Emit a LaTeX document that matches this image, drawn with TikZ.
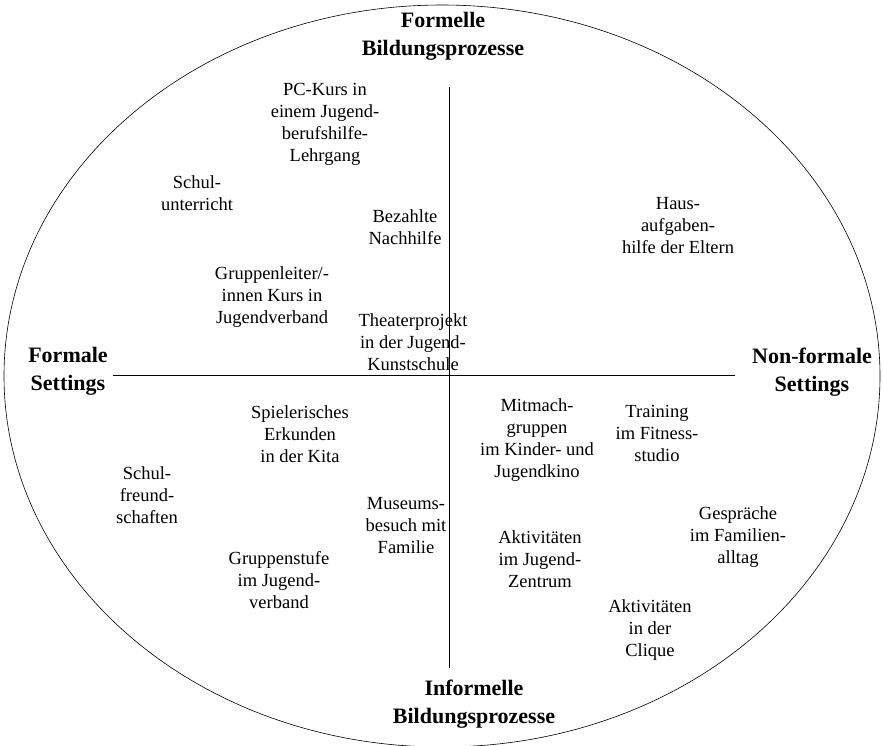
\documentclass[tikz,border=0pt]{standalone}
\usepackage{fontspec}
\setmainfont{Liberation Serif}
\usepackage{tikz}
\usetikzlibrary{positioning}
\tikzset{
    field/.style={x=1pt,y=-1pt,line width=0.8pt},
    item/.style={align=center,inner sep=0pt,font=\fontsize{18.5}{22}\selectfont},
    axislabel/.style={align=center,inner sep=0pt,font=\fontsize{22}{28}\selectfont\bfseries},
    }

\begin{document}
\begin{tikzpicture}[field]
    \useasboundingbox (0,0) rectangle (883,745);
    \draw[line width=0.6pt] (442,376) ellipse [x radius=438, y radius=371];

    \coordinate (top) at (449,87);
    \coordinate (bottom) at (449,668);
    \coordinate (left) at (113,375);
    \coordinate (right) at (735,375);
    \draw (top) -- (bottom);
    \draw (left) -- (right);

    % Achsen
    \node[axislabel] (formell) at (443,36) {Formelle\\Bildungsprozesse};
    \node[axislabel] (informell) at (474,704) {Informelle\\Bildungsprozesse};
    \node[axislabel] (formal) at (68,371) {Formale\\Settings};
    \node[axislabel] (nonformal) at (812,372) {Non-formale\\Settings};

    % oben
    \node[item] (pckurs) at (325,124) {PC-Kurs in\\einem Jugend-\\berufshilfe-\\Lehrgang};
    \node[item] (schule) at (197,193) {Schul-\\unterricht};
    \node[item] (nachhilfe) at (405,227) {Bezahlte\\Nachhilfe};
    \node[item] (haus) at (678,226) {Haus-\\aufgaben-\\hilfe der Eltern};
    \node[item] (leiter) at (272,297) {Gruppenleiter/-\\innen Kurs in\\Jugendverband};
    \node[item] (theater) at (413,342) {Theaterprojekt\\in der Jugend-\\Kunstschule};

    % unten
    \node[item] (kita) at (300,434) {Spielerisches\\Erkunden\\in der Kita};
    \node[item] (freunde) at (147,495) {Schul-\\freund-\\schaften};
    \node[item] (museum) at (406,526) {Museums-\\besuch mit\\Familie};
    \node[item] (stufe) at (279,580) {Gruppenstufe\\im Jugend-\\verband};
    \node[item] (kino) at (537,440) {Mitmach-\\gruppen\\im Kinder- und\\Jugendkino};
    \node[item] (fitness) at (657,433) {Training\\im Fitness-\\studio};
    \node[item] (familie) at (738,537) {Gespräche\\im Familien-\\alltag};
    \node[item] (zentrum) at (540,559) {Aktivitäten\\im Jugend-\\Zentrum};
    \node[item] (clique) at (650,630) {Aktivitäten\\in der\\Clique};
\end{tikzpicture}
\end{document}
